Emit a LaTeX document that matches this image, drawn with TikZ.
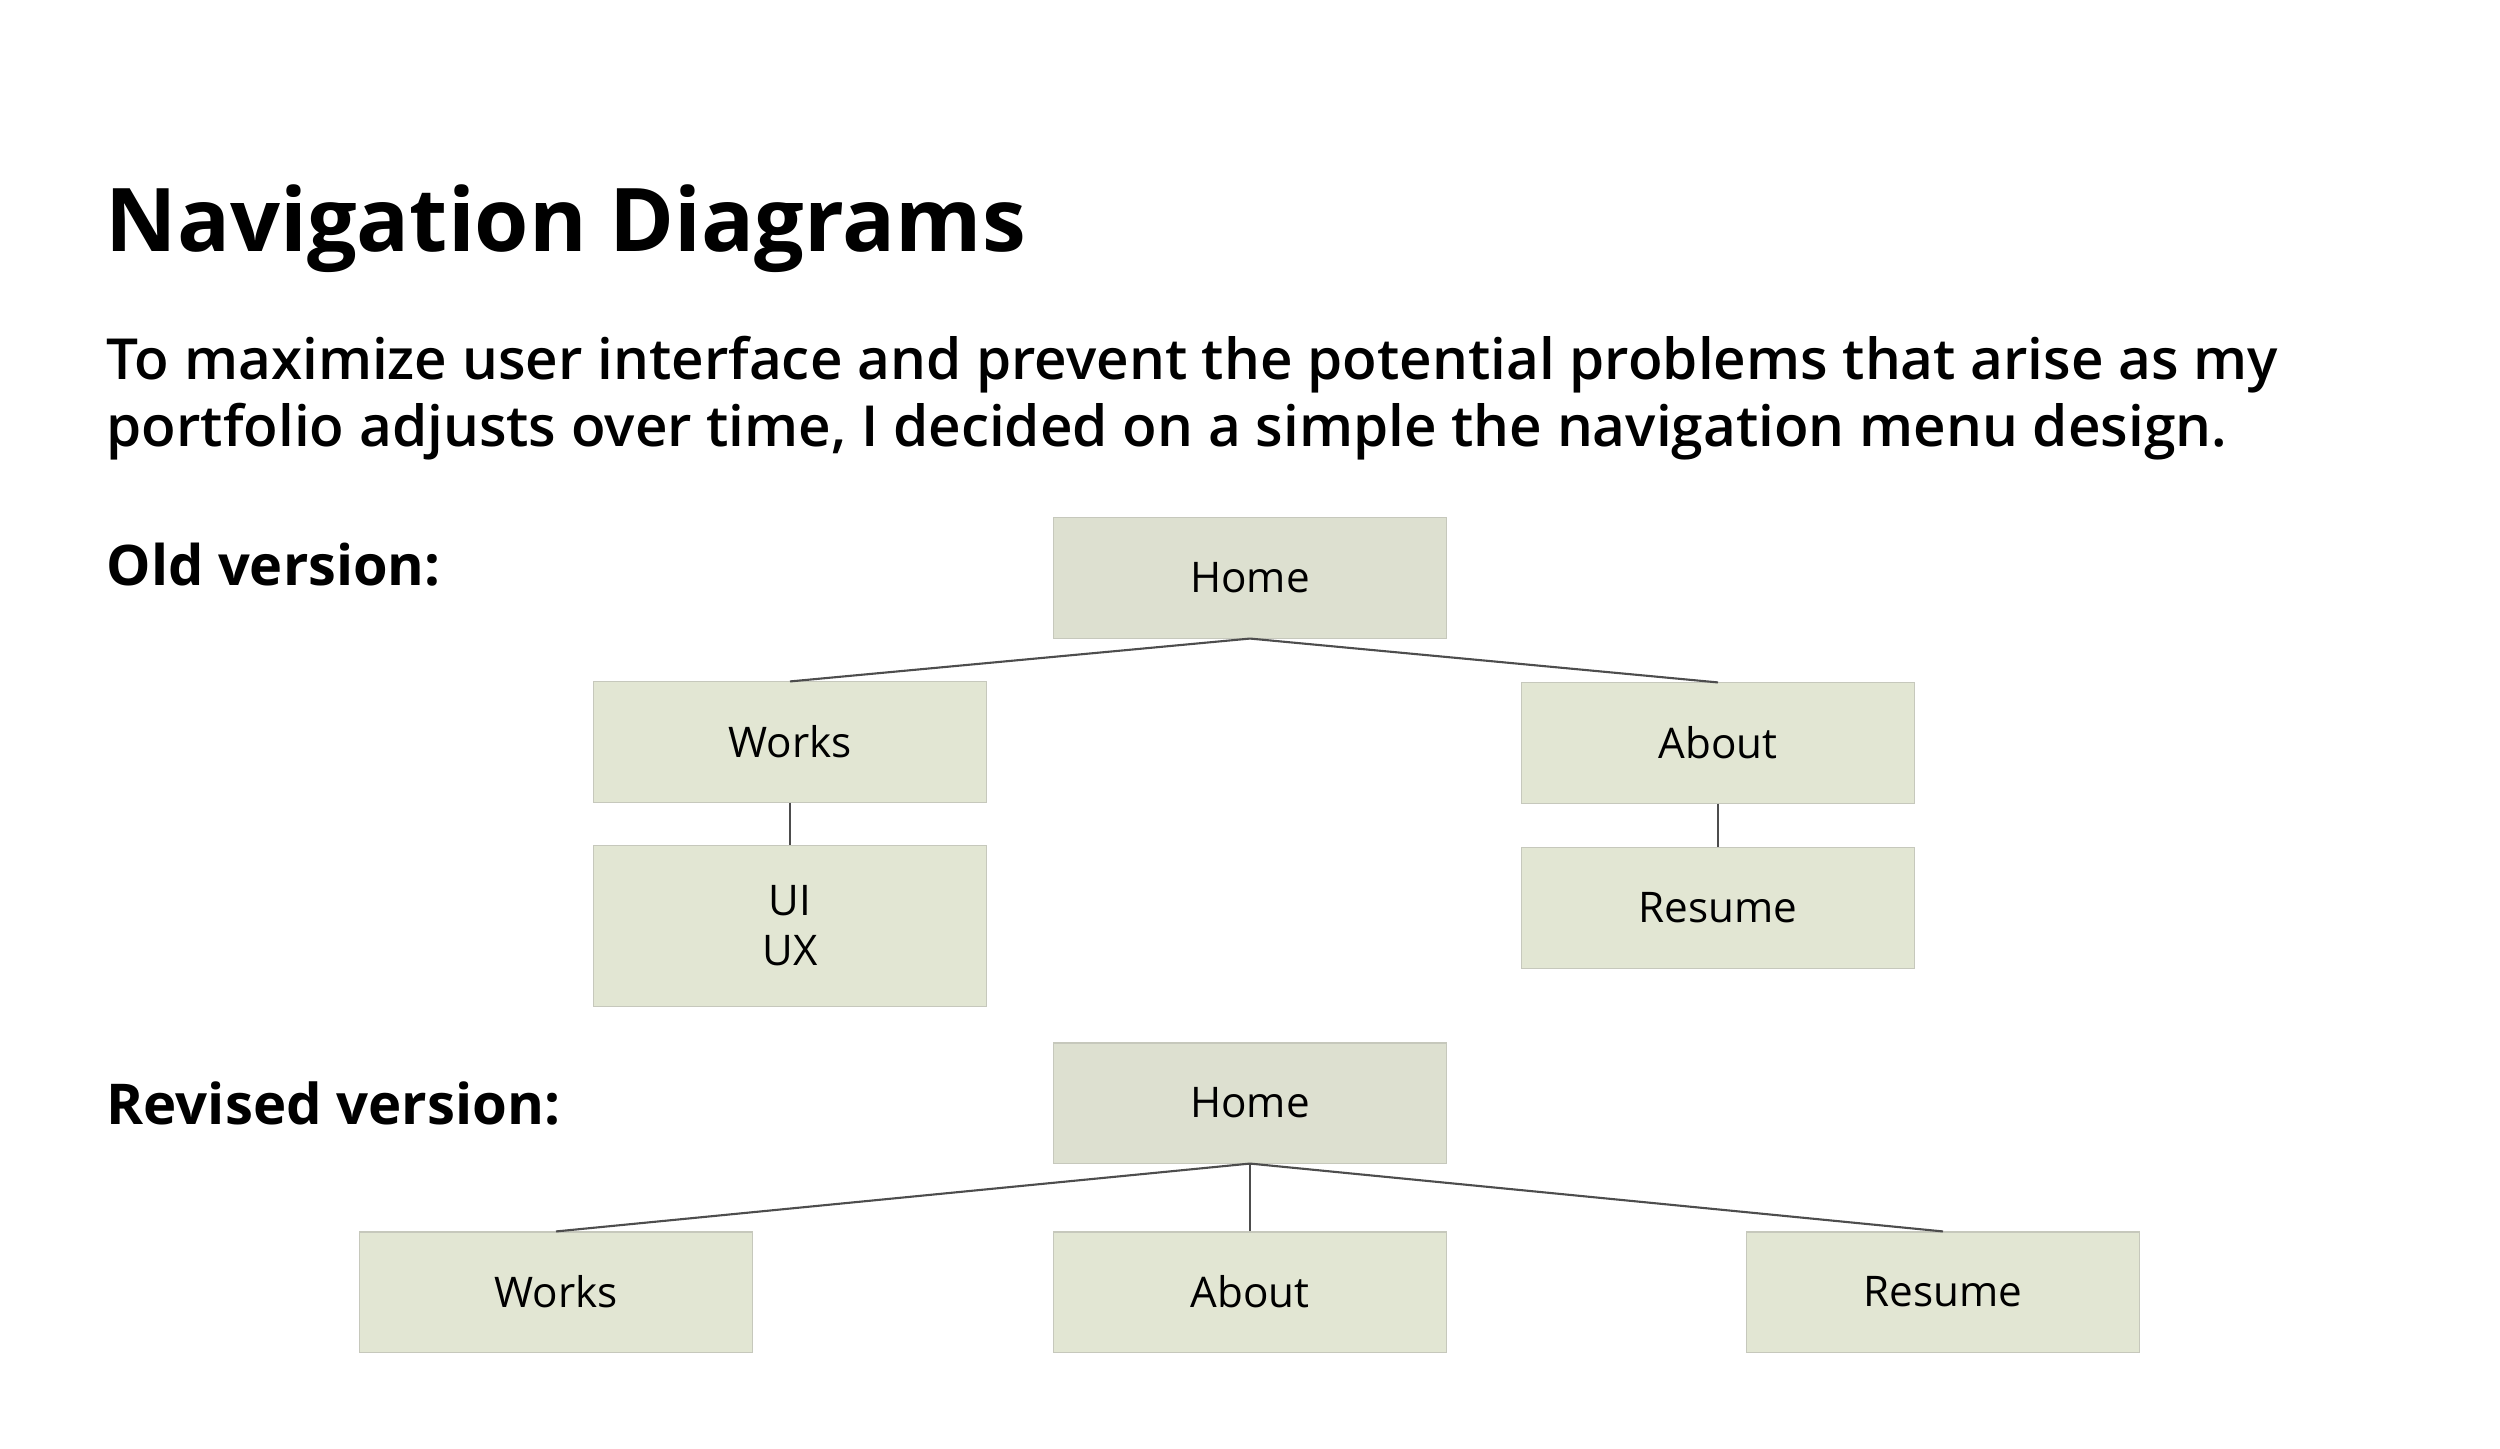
\documentclass[tikz,border=0pt]{standalone}
\usepackage{fontspec}
\setmainfont{Open Sans}
\newfontfamily\semibold{Open Sans}[UprightFont={* Semibold}]
\usepackage{tikz}
\usetikzlibrary{positioning}
\pgfdeclarelayer{nodelayer}
\pgfdeclarelayer{edgelayer}
\pgfsetlayers{nodelayer,edgelayer,main}
\definecolor{homefill}{HTML}{DDE0D0}
\definecolor{boxfill}{HTML}{E2E6D3}
\definecolor{boxline}{HTML}{C6C8BC}
\definecolor{edgegray}{HTML}{4D4D4D}
\tikzset{
    none/.style = {inner sep=0pt},
    page/.style = {draw=boxline, fill=boxfill, line width=0.3pt, inner sep=0pt,
        minimum width=3.93cm, minimum height=1.2cm, align=center,
        font=\fontsize{12}{14.2}\selectfont},
    home/.style = {page, fill=homefill},
    link/.style = {draw=edgegray, line width=0.6pt}
}

\begin{document}
\begin{tikzpicture}[x=0.01cm, y=-0.01cm]
    \useasboundingbox (0, 0) rectangle (2500, 1449);
    \begin{pgfonlayer}{nodelayer}
        \node [style=none, anchor=base west, font=\fontsize{25}{30}\selectfont\bfseries] (title) at (105, 252) {Navigation Diagrams};
        % base of a two-line node is its last line
        \node [style=none, anchor=base west, align=left, font=\fontsize{16.1}{19.06}\selectfont\semibold] (text) at (106, 447) {To maximize user interface and prevent the potential problems that arise as my\\portfolio adjusts over time, I decided on a simple the navigation menu design.};
        \node [style=none, anchor=base west, font=\fontsize{15.9}{20}\selectfont\bfseries] (old) at (106, 585) {Old version:};
        \node [style=none, anchor=base west, font=\fontsize{16}{20}\selectfont\bfseries] (new) at (106, 1124) {Revised version:};
        % old version
        \node [style=home] (0) at (1250, 578) {Home};
        \node [style=page] (1) at (790, 742) {Works};
        \node [style=page] (2) at (1718, 743) {About};
        \node [style=page, minimum height=1.61cm] (3) at (790, 926) {UI\\UX};
        \node [style=page] (4) at (1718, 908) {Resume};
        % revised version
        \node [style=home] (5) at (1250, 1103) {Home};
        \node [style=page] (6) at (556, 1292) {Works};
        \node [style=page] (7) at (1250, 1292) {About};
        \node [style=page] (8) at (1943, 1292) {Resume};
    \end{pgfonlayer}
    \begin{pgfonlayer}{edgelayer}
        \draw [style=link] (0.south) to (1.north);
        \draw [style=link] (0.south) to (2.north);
        \draw [style=link] (1.south) to (3.north);
        \draw [style=link] (2.south) to (4.north);
        \draw [style=link] (5.south) to (6.north);
        \draw [style=link] (5.south) to (7.north);
        \draw [style=link] (5.south) to (8.north);
    \end{pgfonlayer}
\end{tikzpicture}
\end{document}
